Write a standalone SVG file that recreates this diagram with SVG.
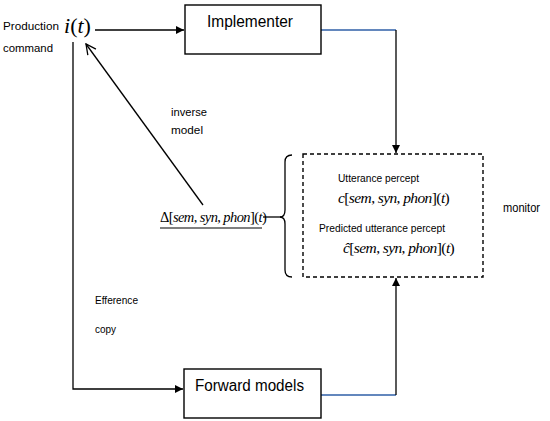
<svg xmlns="http://www.w3.org/2000/svg" width="550" height="421" viewBox="0 0 550 421">
<defs>
<marker id="fa" viewBox="0 0 10 10" refX="10" refY="5" markerWidth="8" markerHeight="8" markerUnits="userSpaceOnUse" orient="auto">
<path d="M0,0 L10,5 L0,10 z" fill="#000"/>
</marker>
<marker id="oa" viewBox="0 0 12 12" refX="11" refY="6" markerWidth="12" markerHeight="12" markerUnits="userSpaceOnUse" orient="auto">
<path d="M1,1 L11,6 L1,11" fill="none" stroke="#000" stroke-width="1.3"/>
</marker>
<style>
.box{fill:#fff;stroke:#000;stroke-width:1.4}
.ln{fill:none;stroke:#000;stroke-width:1.3}
.bl{fill:none;stroke:#2f5fa7;stroke-width:1.4}
.lab{font-family:"Liberation Sans",Arial,sans-serif;fill:#000}
.big{font-size:16px}
.mth{font-family:"Liberation Serif","Times New Roman",serif;font-style:italic;fill:#000}
.up{font-style:normal}
</style>
</defs>
<rect width="550" height="421" fill="#fff"/>
<g id="connectors">
<line class="ln" x1="95" y1="30" x2="184" y2="30" marker-end="url(#fa)"/>
<polyline class="bl" points="321,30 396,30"/>
<line class="ln" x1="396" y1="30" x2="396" y2="153" marker-end="url(#fa)"/>
<line class="ln" x1="203" y1="205" x2="86" y2="44" marker-end="url(#oa)"/>
<polyline class="ln" points="73,42 73,389 183,389" marker-end="url(#fa)"/>
<polyline class="bl" points="321,395 396,395"/>
<line class="ln" x1="396" y1="395" x2="396" y2="278" marker-end="url(#fa)"/>
<line class="ln" x1="263" y1="217" x2="281" y2="217"/>
<path class="ln" d="M292,155 Q285,155 285,162 L285,210 Q285,217 280,217 Q285,217 285,224 L285,270 Q285,277 292,277"/>
</g>
<g id="production">
<text class="lab" x="3" y="30" font-size="11" textLength="56" lengthAdjust="spacingAndGlyphs">Production</text>
<text class="lab" x="3" y="52" font-size="11" textLength="50" lengthAdjust="spacingAndGlyphs">command</text>
<text class="mth" x="64" y="33" font-size="22">i<tspan class="up">(</tspan>t<tspan class="up">)</tspan></text>
</g>
<g id="implementer">
<rect class="box" x="185" y="5" width="136" height="49"/>
<text class="lab big" x="207" y="27" textLength="86" lengthAdjust="spacingAndGlyphs">Implementer</text>
</g>
<g id="inverse-label">
<text class="lab" x="171" y="116" font-size="10.5" textLength="36" lengthAdjust="spacingAndGlyphs">inverse</text>
<text class="lab" x="171" y="134" font-size="10.5" textLength="32" lengthAdjust="spacingAndGlyphs">model</text>
</g>
<g id="delta">
<text class="mth" x="160" y="222" font-size="14.5" letter-spacing="-0.6"><tspan class="up">Δ[</tspan>sem<tspan class="up">,</tspan> syn<tspan class="up">,</tspan> phon<tspan class="up">](</tspan>t<tspan class="up">)</tspan></text>
<line x1="160" y1="228" x2="262" y2="228" stroke="#000" stroke-width="1.2"/>
</g>
<g id="monitor">
<rect x="303" y="154" width="180" height="123" fill="none" stroke="#000" stroke-width="1.4" stroke-dasharray="4,3"/>
<text class="lab" x="338" y="182" font-size="10.5" textLength="81" lengthAdjust="spacingAndGlyphs">Utterance percept</text>
<text class="mth" x="338" y="203" font-size="15.5" letter-spacing="-0.6">c<tspan class="up">[</tspan>sem<tspan class="up">,</tspan> syn<tspan class="up">,</tspan> phon<tspan class="up">](</tspan>t<tspan class="up">)</tspan></text>
<text class="lab" x="319" y="232" font-size="10.5" textLength="126" lengthAdjust="spacingAndGlyphs">Predicted utterance percept</text>
<text class="mth" x="343" y="253" font-size="15.5" letter-spacing="-0.6">ĉ<tspan class="up">[</tspan>sem<tspan class="up">,</tspan> syn<tspan class="up">,</tspan> phon<tspan class="up">](</tspan>t<tspan class="up">)</tspan></text>
<text class="lab" x="503" y="212" font-size="13" textLength="37" lengthAdjust="spacingAndGlyphs">monitor</text>
</g>
<g id="efference">
<text class="lab" x="95" y="304" font-size="10" textLength="43" lengthAdjust="spacingAndGlyphs">Efference</text>
<text class="lab" x="95" y="333" font-size="10" textLength="21" lengthAdjust="spacingAndGlyphs">copy</text>
</g>
<g id="forward-models">
<rect class="box" x="184" y="369" width="137" height="49"/>
<text class="lab big" x="195" y="391" textLength="109" lengthAdjust="spacingAndGlyphs">Forward models</text>
</g>
</svg>
